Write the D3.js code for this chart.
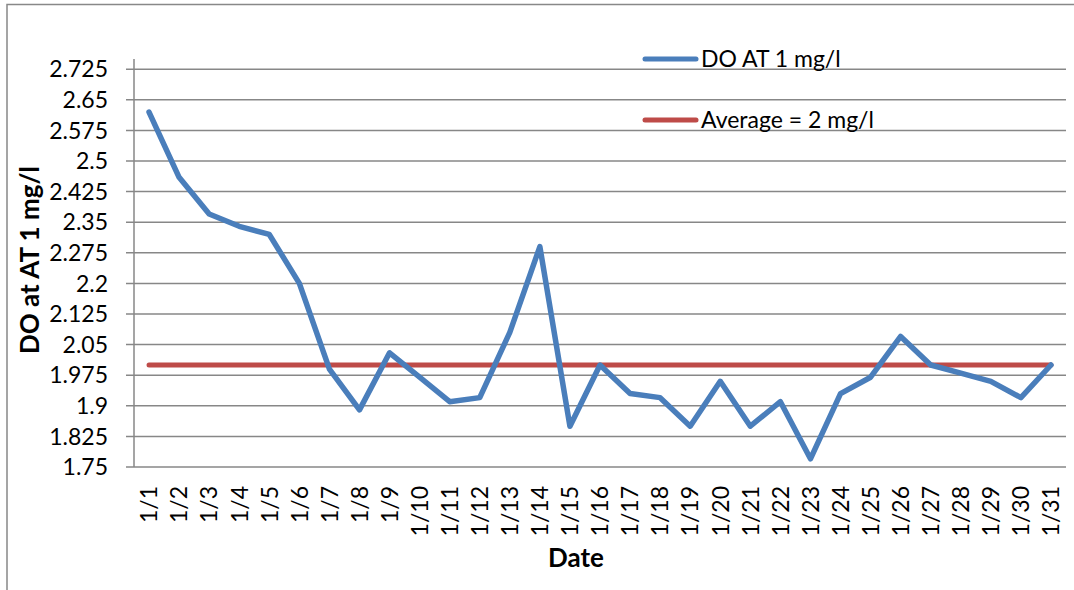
<!DOCTYPE html>
<html>
<head>
<meta charset="utf-8">
<script src="https://cdn.jsdelivr.net/npm/d3@7"></script>
<style>
  body { margin: 0; background: #fff; }
  svg text { font-family: Lato, "Open Sans", sans-serif; fill: #000; }
</style>
</head>
<body>
<svg id="chart" width="1074" height="590"></svg>
<script>
// dates on the x axis
var dates = ['1/1','1/2','1/3','1/4','1/5','1/6','1/7','1/8','1/9','1/10',
  '1/11','1/12','1/13','1/14','1/15','1/16','1/17','1/18','1/19','1/20',
  '1/21','1/22','1/23','1/24','1/25','1/26','1/27','1/28','1/29','1/30','1/31'];

// DO readings, mg/l
var doValues = [2.62, 2.46, 2.37, 2.34, 2.32, 2.20, 1.99, 1.89, 2.03, 1.97,
  1.91, 1.92, 2.08, 2.29, 1.85, 2.00, 1.93, 1.92, 1.85, 1.96,
  1.85, 1.91, 1.77, 1.93, 1.97, 2.07, 2.00, 1.98, 1.96, 1.92, 2.00];

var average = 2;

var yTicks = [1.75, 1.825, 1.9, 1.975, 2.05, 2.125, 2.2, 2.275, 2.35, 2.425, 2.5, 2.575, 2.65, 2.725];
var yTickLabels = ['1.75','1.825','1.9','1.975','2.05','2.125','2.2','2.275','2.35','2.425','2.5','2.575','2.65','2.725'];

var svg = d3.select('#chart');
var plotLeft = 134, plotRight = 1066, plotTop = 59, plotBottom = 467;

var x = d3.scaleBand().domain(dates).range([plotLeft, plotRight]);
var y = d3.scaleLinear().domain([1.75, 2.75]).range([plotBottom, plotTop]);
var cx = function(d) { return x(d) + x.bandwidth() / 2; };

// outer frame (top and left edges only visible)
svg.append('path')
  .attr('d', 'M7,590 V4.5 H1074')
  .attr('fill', 'none')
  .attr('stroke', '#888')
  .attr('stroke-width', 1.5);

// gridlines
svg.append('g')
  .selectAll('line')
  .data(yTicks)
  .enter()
  .append('line')
  .attr('x1', plotLeft - 8)
  .attr('x2', plotRight)
  .attr('y1', function(d) { return y(d); })
  .attr('y2', function(d) { return y(d); })
  .attr('stroke', '#878787')
  .attr('stroke-width', 1.5);

// y axis line
svg.append('line')
  .attr('x1', plotLeft).attr('x2', plotLeft)
  .attr('y1', plotTop).attr('y2', plotBottom)
  .attr('stroke', '#878787')
  .attr('stroke-width', 1.5);

// y tick labels
svg.append('g')
  .selectAll('text')
  .data(yTicks)
  .enter()
  .append('text')
  .attr('x', 108)
  .attr('y', function(d) { return y(d); })
  .attr('dy', '0.36em')
  .attr('text-anchor', 'end')
  .style('font-size', '23px')
  .text(function(d, i) { return yTickLabels[i]; });

// x tick labels, rotated
svg.append('g')
  .selectAll('text')
  .data(dates)
  .enter()
  .append('text')
  .attr('transform', function(d) { return 'translate(' + cx(d) + ',486) rotate(-90)'; })
  .attr('dy', '0.36em')
  .attr('text-anchor', 'end')
  .style('font-size', '23px')
  .text(function(d) { return d; });

// average line
svg.append('line')
  .attr('x1', cx(dates[0]))
  .attr('x2', cx(dates[dates.length - 1]))
  .attr('y1', y(average))
  .attr('y2', y(average))
  .attr('stroke', '#BE4B48')
  .attr('stroke-width', 5)
  .attr('stroke-linecap', 'round');

// DO line
var line = d3.line()
  .x(function(d, i) { return cx(dates[i]); })
  .y(function(d) { return y(d); });

svg.append('path')
  .datum(doValues)
  .attr('d', line)
  .attr('fill', 'none')
  .attr('stroke', '#4A7EBB')
  .attr('stroke-width', 5.5)
  .attr('stroke-linejoin', 'round')
  .attr('stroke-linecap', 'round');

// legend
var legend = [
  { name: 'DO AT 1 mg/l', color: '#4A7EBB', y: 59 },
  { name: 'Average = 2 mg/l', color: '#BE4B48', y: 120 }
];
var lg = svg.append('g');
lg.selectAll('line')
  .data(legend)
  .enter()
  .append('line')
  .attr('x1', 645).attr('x2', 696)
  .attr('y1', function(d) { return d.y; })
  .attr('y2', function(d) { return d.y; })
  .attr('stroke', function(d) { return d.color; })
  .attr('stroke-width', 5)
  .attr('stroke-linecap', 'round');
lg.selectAll('text')
  .data(legend)
  .enter()
  .append('text')
  .attr('x', 701)
  .attr('y', function(d) { return d.y + 8; })
  .style('font-size', '23px')
  .text(function(d) { return d.name; });

// axis titles
svg.append('text')
  .attr('transform', 'translate(39,260) rotate(-90)')
  .attr('text-anchor', 'middle')
  .style('font-size', '26px')
  .style('font-weight', 'bold')
  .text('DO at AT 1 mg/l');

svg.append('text')
  .attr('x', 576)
  .attr('y', 567)
  .attr('text-anchor', 'middle')
  .style('font-size', '26px')
  .style('font-weight', 'bold')
  .text('Date');
</script>
</body>
</html>
